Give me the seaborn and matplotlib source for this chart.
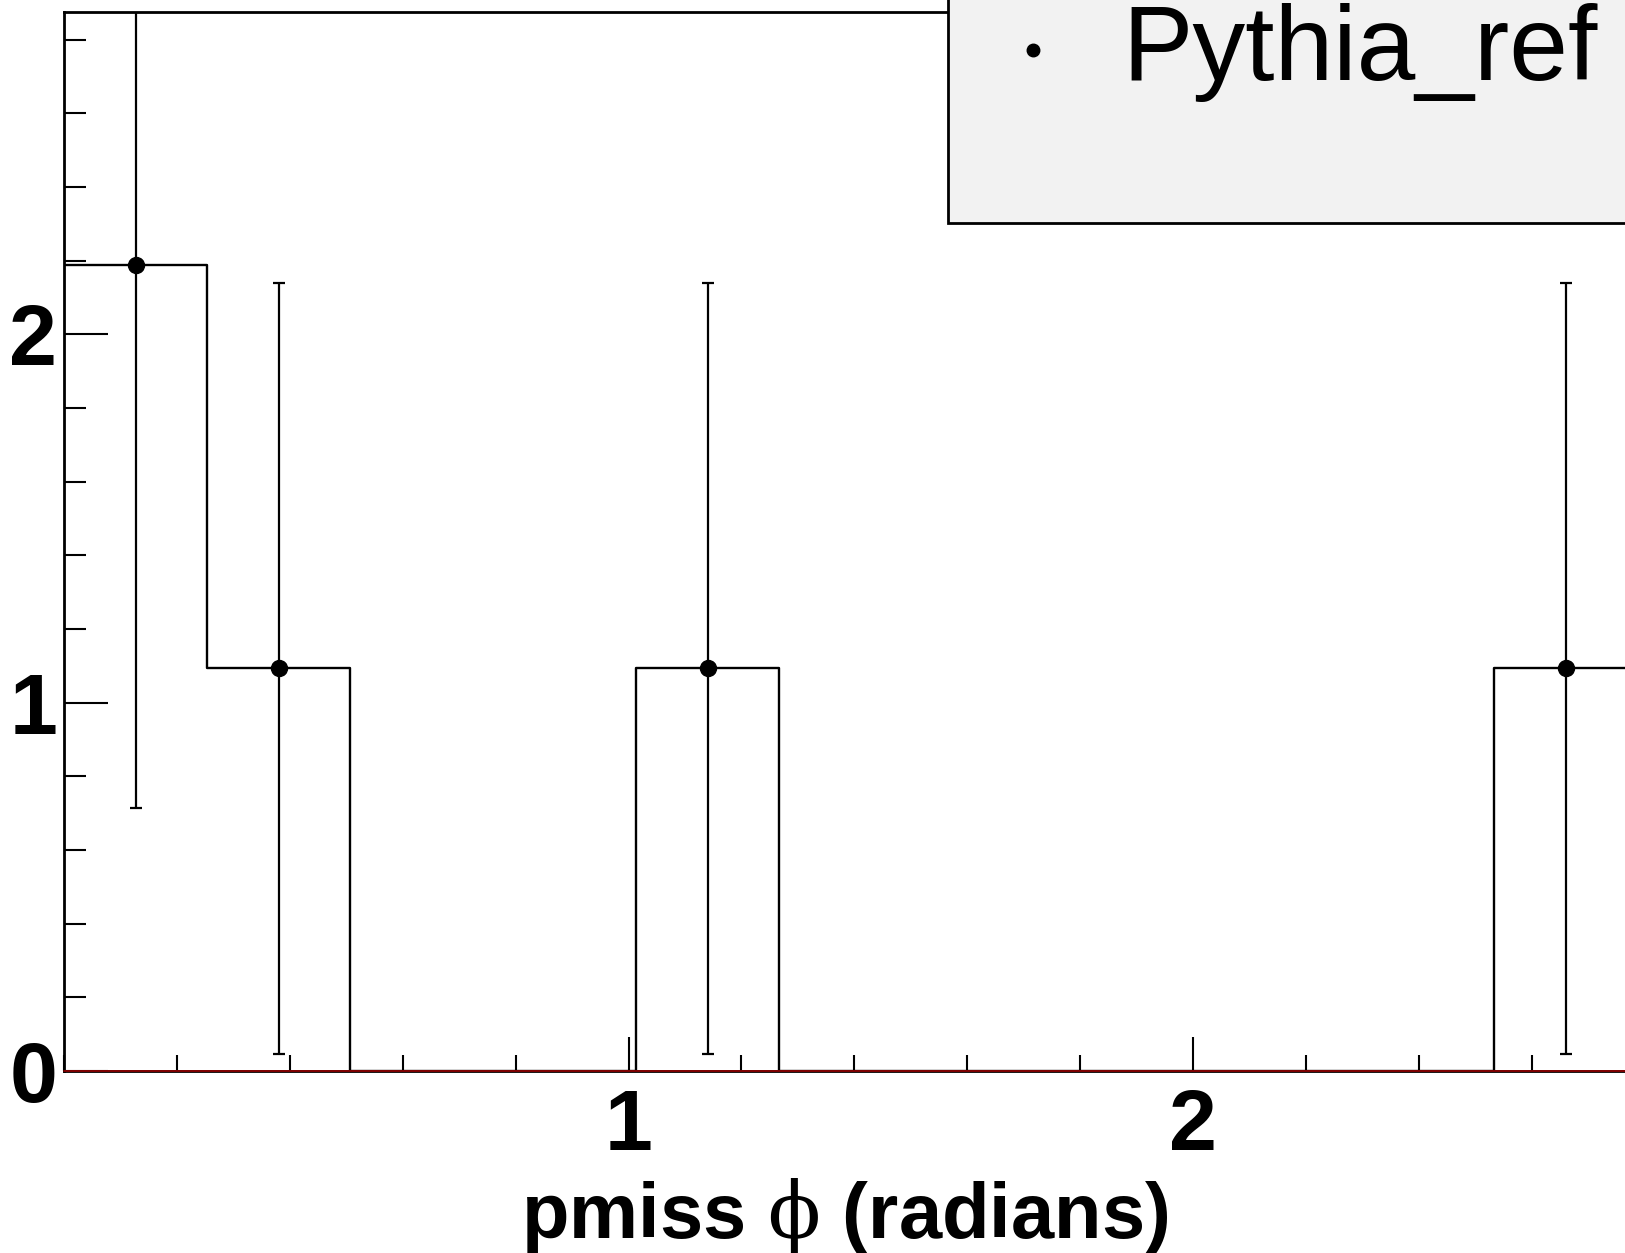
import numpy as np
import pandas as pd
import matplotlib
matplotlib.use("Agg")
import matplotlib.pyplot as plt
from matplotlib.patches import Rectangle
from matplotlib.ticker import MultipleLocator
import seaborn as sns

# histogram (bin width ~0.2533 rad)
bin_edges = [0.0, 0.2533, 0.5066, 0.7599, 1.0132, 1.2665, 1.5198,
             1.7731, 2.0264, 2.2797, 2.5330, 2.7863]
bin_counts = [2.188, 1.093, 0, 0, 1.093, 0, 0, 0, 0, 0, 1.093]
bin_errors = [1.475, 1.046, 0, 0, 1.046, 0, 0, 0, 0, 0, 1.046]
legend_label = "Pythia_ref"
x_title = r"pmiss $\phi$ (radians)"

sns.set_theme(style="white")
plt.rcParams['font.family'] = ['Liberation Sans', 'DejaVu Sans']
plt.rcParams['mathtext.fontset'] = 'custom'
plt.rcParams['mathtext.it'] = 'DejaVu Serif'
plt.rcParams['mathtext.rm'] = 'DejaVu Serif'
plt.rcParams['text.color'] = 'black'
plt.rcParams['axes.labelcolor'] = 'black'
plt.rcParams['xtick.color'] = 'black'
plt.rcParams['ytick.color'] = 'black'

fig = plt.figure(figsize=(16.25, 12.53), dpi=100)
ax = fig.add_axes([0.0394, 0.1453, 0.9606, 0.8449])

edges = np.array(bin_edges)
centers = (edges[:-1] + edges[1:]) / 2
counts = np.array(bin_counts)
errs = np.array(bin_errors)
df = pd.DataFrame({"phi": centers, "w": counts})

sns.histplot(data=df, x="phi", weights="w", bins=bin_edges, element="step", fill=False,
             color="black", linewidth=1.7, ax=ax)

# red zero line of the other (empty) histogram
ax.axhline(0, color="#8a0000", lw=1.3, zorder=5, clip_on=False)

nz = counts > 0
ax.errorbar(centers[nz], counts[nz], yerr=errs[nz], fmt="o", ms=11.5, color="black",
            ecolor="black", elinewidth=1.6, capsize=4, capthick=1.6, zorder=6)

ax.set_xlim(0, 2.765)
ax.set_ylim(0, 2.874)
ax.set_ylabel("")
ax.xaxis.set_major_locator(MultipleLocator(1))
ax.xaxis.set_minor_locator(MultipleLocator(0.2))
ax.yaxis.set_major_locator(MultipleLocator(1))
ax.yaxis.set_minor_locator(MultipleLocator(0.2))
ax.tick_params(axis="x", which="major", direction="in", length=24.5, width=1.5,
               pad=12, labelsize=62, color="black", labelcolor="black")
ax.tick_params(axis="x", which="minor", direction="in", length=11.5, width=1.5, color="black")
ax.tick_params(axis="y", which="major", direction="in", length=32, width=1.5,
               pad=5, labelsize=62, color="black", labelcolor="black")
ax.tick_params(axis="y", which="minor", direction="in", length=16, width=1.5, color="black")
ax.tick_params(bottom=True, left=True, which="both")
ax.set_xticks([1, 2])
ax.set_xticklabels(["1", "2"], fontweight="bold")
ax.set_yticks([0, 1, 2])
ax.set_yticklabels(["0", "1", "2"], fontweight="bold")

for side in ["left", "bottom", "top"]:
    ax.spines[side].set_color("black")
    ax.spines[side].set_linewidth(2.0)
ax.spines["right"].set_visible(False)

ax.set_xlabel(x_title, fontsize=56, fontweight="bold", labelpad=6, color="black")

# legend box (ROOT style)
fig.patches.append(Rectangle((0.5834, 0.822), 0.43, 0.19, transform=fig.transFigure,
                             facecolor="#f2f2f2", edgecolor="black", linewidth=2.0,
                             zorder=10))
fig.lines.append(plt.Line2D([1033 / 1625], [1 - 50 / 1253], transform=fig.transFigure,
                            marker="o", ms=9, color="black", linestyle="none", zorder=11))
fig.text(1122 / 1625, 1 - 52 / 1253, legend_label, fontsize=76, va="center",
         ha="left", color="black", zorder=11)

fig.savefig("out.png", dpi=100)
